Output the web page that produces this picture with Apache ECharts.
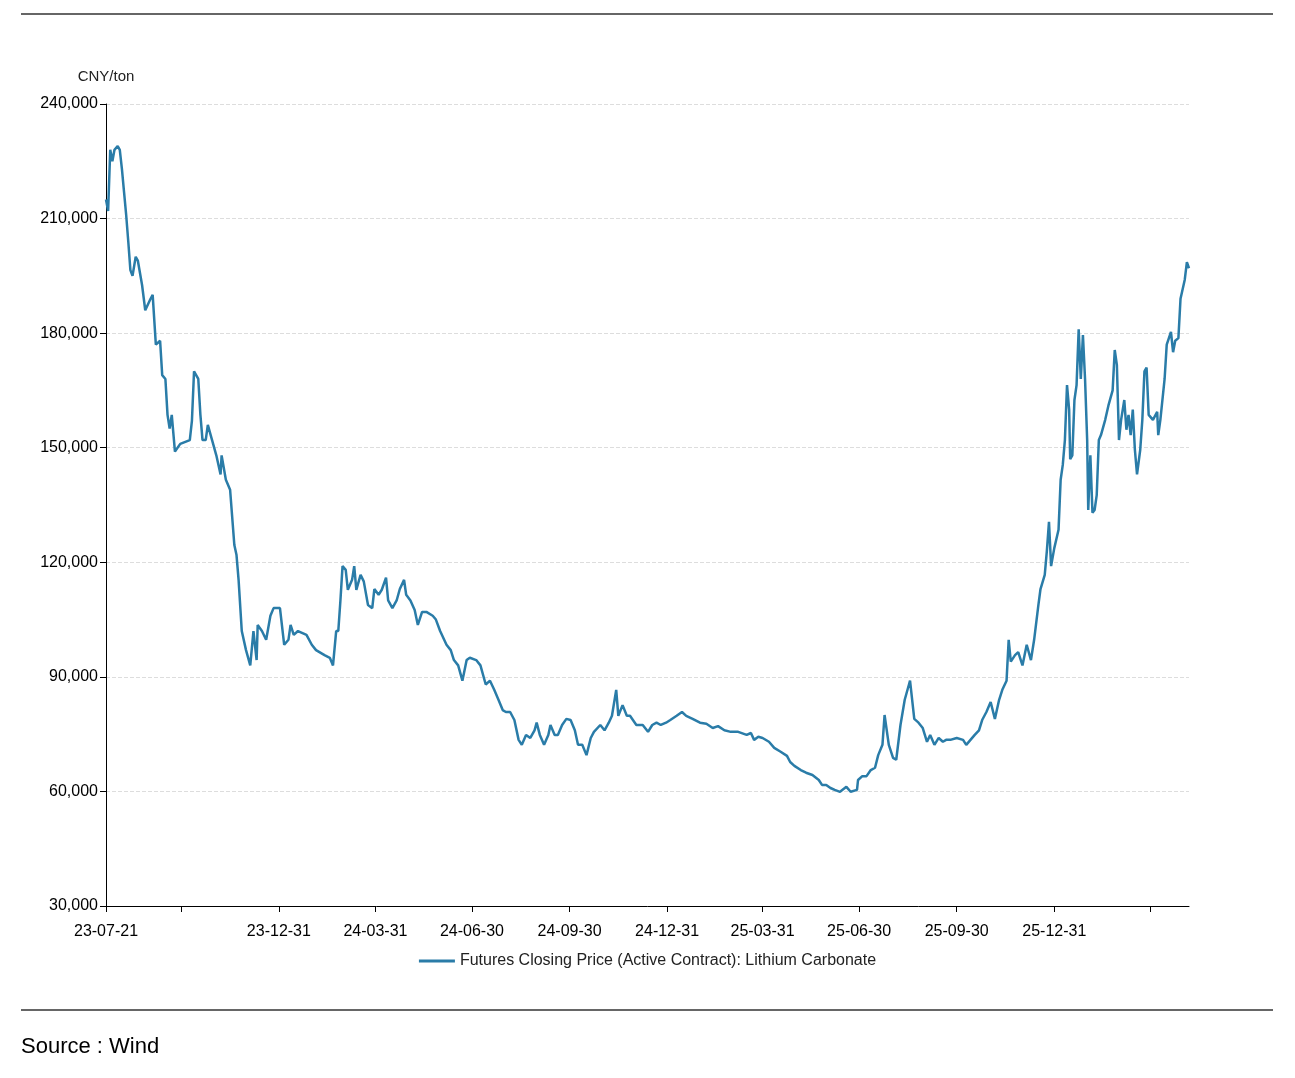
<!DOCTYPE html>
<html>
<head>
<meta charset="utf-8">
<title>Lithium Carbonate</title>
<script src="https://cdn.jsdelivr.net/npm/echarts@6/dist/echarts.min.js"></script>
<style>html,body{margin:0;padding:0;background:#fff}</style>
</head>
<body>
<div id="main" style="width:1295px;height:1078px;"></div>
<script type="text/javascript">
// days since 2023-07-21 and closing price (CNY/ton, thousands)
var dayOffsets = [0,2,4,6,8,11,13,15,17,19,21,23,25,28,30,34,37,42,44,47,51,53,56,58,60,62,65,70,79,81,83,87,89,91,94,96,100,104,108,109,113,117,121,123,125,128,132,136,139,142,143,147,151,155,158,164,168,172,174,177,181,189,194,198,206,211,214,217,219,221,223,226,228,232,234,236,240,243,247,251,253,257,260,264,266,270,274,277,281,283,287,291,294,298,302,308,311,315,321,325,328,332,336,340,343,349,353,358,362,366,370,374,377,381,385,389,392,396,400,404,406,409,413,417,419,423,426,430,434,438,442,445,449,453,457,460,466,470,474,477,481,483,487,491,494,500,506,511,515,519,523,528,532,538,543,547,553,560,566,572,577,583,589,596,604,608,611,615,619,625,630,636,642,645,649,655,660,666,672,675,679,683,687,692,698,702,708,709,713,717,721,725,728,732,734,738,742,745,749,753,757,758,762,766,770,774,777,781,785,789,792,796,802,808,811,815,819,823,826,830,834,838,842,845,849,851,853,857,860,864,868,872,875,879,881,885,887,889,891,894,898,900,902,904,906,908,909,911,913,915,917,919,921,923,925,926,928,930,932,934,936,938,942,945,949,951,953,955,957,960,962,964,966,968,970,972,975,977,979,981,983,987,991,992,994,998,1000,1004,1006,1008,1011,1013,1017,1019,1021];
var prices = [215,212,228,225,228,229,228,223,217,211,204,196.5,195,200,199,192.6,186,189,190,177,178,169,168,158.6,155,158.6,149,151,152,157,170,168,158.6,152,152,156,152,148,143,148,141.6,139,124.5,122,115.4,102,97,93,102,94.4,103.6,102,99.7,106,108,108,98.4,99.7,103.6,101,102,101,98.4,97,95.7,95,93,102,102,110,119,118,112.8,115.4,119,112.8,116.7,115,108.8,108,113,111.5,112.8,116,110,108,110,113,115.4,111.5,110,107.5,103.6,107,107,106,105,102,98.4,97,94.4,93,89,94.4,95,94.4,93,88,89,86.6,84,81.3,80.8,80.8,78.7,73.5,72.2,74.8,74,76,78,74.8,72.2,74.8,77.4,74.8,74.8,77.4,79,78.7,76,72.2,72.2,69.5,74,75.6,77.4,76,78,79.8,86.6,79.8,82.6,79.8,79.8,77.4,77.4,75.6,77.4,78,77.4,78,78.7,79.8,80.8,79.8,79,78,77.7,76.6,77.1,76,75.6,75.6,74.8,75.3,73.5,74.3,74,73,71.4,70.4,69.3,67.7,66.7,65.6,64.9,64.3,63,61.7,61.7,60.9,60.4,59.9,61.2,59.9,60.4,63,64,64,65.6,66.2,69.5,72.2,80,72.2,68.8,68.3,77.4,84,88,89,79,78,76.6,73,74.8,72.2,74,73,73.5,73.5,74,73.5,72.2,73.5,74.8,76,78.7,80.8,83.4,79,84,86.6,89,99.7,94,95.7,96.5,93,98.4,94.4,99.7,108.8,113,116.7,123,130.6,119,123.7,128.5,141.6,145.5,152,166.4,160,147,148,162.5,166.4,181,168,179.5,168,152,133.7,148,133,133.7,137.6,152,153.3,157.3,161,165,175.6,171.7,152,157.3,162.5,154.7,158.6,153.3,160,149.4,143,149.4,157.3,170,171,158.6,157.3,159.4,153.3,157.3,168,177,180.3,175,178,178.7,189,194,198.6,197];
var tickDates = ['23-07-21','23-09-30','23-12-31','24-03-31','24-06-30','24-09-30','24-12-31','25-03-31','25-06-30','25-09-30','25-12-31','26-03-31','26-05-08'];
var hiddenLabels = ['23-09-30','26-03-31'];

var categories = [];
var start = Date.UTC(2023, 6, 21);
for (var i = 0; i <= 1021; i++) {
    var d = new Date(start + i * 86400000);
    var s = String(d.getUTCFullYear()).slice(2) + '-' + ('0' + (d.getUTCMonth() + 1)).slice(-2) + '-' + ('0' + d.getUTCDate()).slice(-2);
    categories.push(s);
}
var seriesData = dayOffsets.map(function (o, i) { return [o, prices[i] * 1000]; });

var myChart = echarts.init(document.getElementById('main'));
var option = {
    animation: false,
    textStyle: { fontFamily: 'Liberation Sans, Arial, sans-serif' },
    graphic: [
        { type: 'line', shape: { x1: 21, y1: 14, x2: 1273, y2: 14 }, style: { stroke: '#666', lineWidth: 2 } },
        { type: 'line', shape: { x1: 21, y1: 1010, x2: 1273, y2: 1010 }, style: { stroke: '#666', lineWidth: 2 } },
        { type: 'text', left: 21, top: 1036, style: { text: 'Source : Wind', fontSize: 22, fill: '#000', fontFamily: 'Liberation Sans, Arial, sans-serif' } }
    ],
    grid: { left: 106, right: 106, top: 104, bottom: 172, containLabel: false },
    legend: {
        bottom: 104, left: 'center', itemWidth: 36, itemHeight: 3,
        textStyle: { fontSize: 16, color: '#222' },
        icon: 'rect',
        data: ['Futures Closing Price (Active Contract): Lithium Carbonate']
    },
    xAxis: {
        type: 'category', data: categories, boundaryGap: false,
        axisLine: { lineStyle: { color: '#000' } },
        axisTick: { alignWithLabel: true, length: 6, lineStyle: { color: '#000' },
            interval: function (idx, val) { return tickDates.indexOf(val) >= 0; } },
        axisLabel: { color: '#000', fontSize: 16, margin: 18, showMaxLabel: true,
            interval: function (idx, val) { return tickDates.indexOf(val) >= 0 && hiddenLabels.indexOf(val) < 0; } },
        splitLine: { show: false }
    },
    yAxis: {
        type: 'value', min: 30000, max: 240000, interval: 30000,
        name: 'CNY/ton', nameGap: 20, nameTextStyle: { color: '#222', fontSize: 15, align: 'center' },
        axisLine: { show: true, lineStyle: { color: '#000' } },
        axisTick: { show: true, length: 6, lineStyle: { color: '#000' } },
        axisLabel: { color: '#000', fontSize: 16, formatter: function (v) { return v.toLocaleString('en-US'); } },
        splitLine: { lineStyle: { color: '#ddd', type: 'dashed' } }
    },
    series: [{
        name: 'Futures Closing Price (Active Contract): Lithium Carbonate',
        type: 'line', data: seriesData, showSymbol: false, connectNulls: true,
        lineStyle: { color: '#2a7ca8', width: 2.5 }, itemStyle: { color: '#2a7ca8' }
    }]
};
myChart.setOption(option);
</script>
</body>
</html>
